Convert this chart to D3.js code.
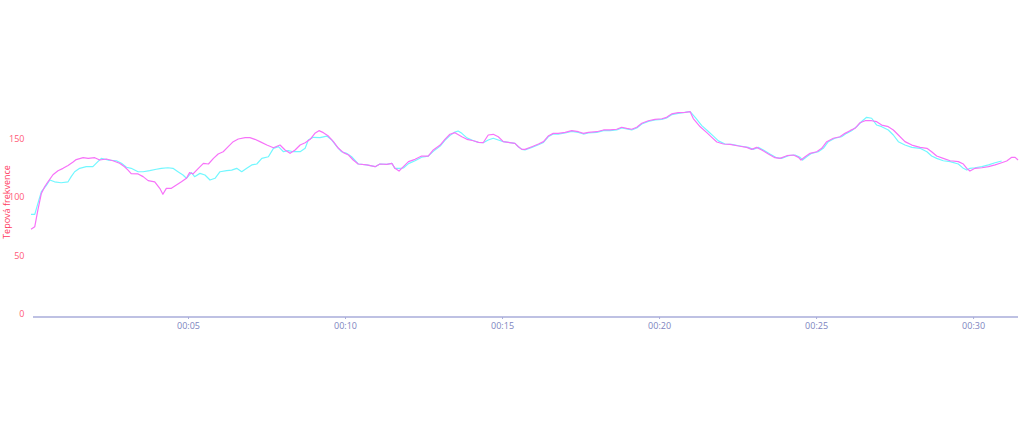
<!DOCTYPE html>
<html>
<head>
<meta charset="utf-8">
<script src="https://cdn.jsdelivr.net/npm/d3@7"></script>
<style>
  html, body { margin: 0; padding: 0; background: #fff; }
  svg { display: block; font-family: "Open Sans", "Noto Sans", sans-serif; }
</style>
</head>
<body>
<svg id="chart" width="1024" height="435"></svg>
<script>
// ---- data (time in minutes, heart rate in bpm) ----
const yTicks = [0, 50, 100, 150];
const xTicks = [5, 10, 15, 20, 25, 30];
const xTickLabels = ["00:05", "00:10", "00:15", "00:20", "00:25", "00:30"];
const yTitle = "Tepová frekvence";

const magentaTime = [0,0.12,0.22,0.33,0.44,0.54,0.70,0.86,1.02,1.18,1.34,1.44,1.66,1.82,2.03,2.19,2.40,2.61,2.82,2.98,3.09,3.19,3.41,3.57,3.73,3.94,4.10,4.20,4.31,4.47,4.63,4.79,4.95,5.05,5.16,5.33,5.49,5.65,5.81,5.96,6.12,6.28,6.44,6.60,6.82,6.97,7.13,7.29,7.51,7.72,7.93,8.09,8.25,8.41,8.57,8.73,8.89,9.04,9.17,9.31,9.47,9.63,9.79,9.95,10.11,10.26,10.42,10.69,10.96,11.11,11.33,11.49,11.59,11.72,11.86,12.02,12.23,12.44,12.65,12.81,13.03,13.18,13.34,13.50,13.72,13.88,14.09,14.25,14.40,14.56,14.72,14.88,15.04,15.25,15.41,15.52,15.63,15.73,15.95,16.16,16.32,16.47,16.63,16.79,17.01,17.22,17.43,17.59,17.75,18.02,18.23,18.44,18.65,18.81,18.97,19.13,19.29,19.45,19.66,19.87,20.09,20.24,20.40,20.61,20.83,20.99,21.09,21.31,21.52,21.68,21.84,22.05,22.26,22.53,22.79,22.95,23.11,23.27,23.48,23.69,23.85,24.07,24.28,24.44,24.52,24.65,24.81,25.02,25.18,25.34,25.55,25.76,25.92,26.08,26.24,26.40,26.56,26.77,26.93,27.09,27.30,27.46,27.62,27.83,28.05,28.31,28.53,28.68,28.84,29.05,29.27,29.53,29.69,29.80,29.90,30.06,30.28,30.49,30.70,30.91,31.07,31.23,31.34,31.43];
const magentaHR = [72.4,74.6,89,103,109,113,119,122.5,124.5,127,130,132,133.6,133,133.6,131.6,132.5,131,128.8,125.9,123,120,119.7,117.4,114,113,107.4,102.3,107.4,107.4,110.3,113,116,120.8,119.7,124.5,128.8,128.2,133,136.8,138.7,143,147.3,149.6,150.7,150.7,149.3,147.3,144.4,142.1,144.4,140.2,137.3,140.2,144.4,146.4,149.3,154.4,156.7,155,152.1,147.3,141.6,137.9,135.9,131.6,128.2,127.4,125.9,128.2,127.9,128.8,124.5,122.2,125.9,130.2,132.2,135,135,140.2,144.4,149.3,153.6,155,151.5,149.3,148.1,146.7,146.4,153,153.6,151.5,147.3,146.4,145.8,143,140.7,140.7,143,145.3,147.3,152.1,154.4,154.4,155.3,156.7,155.8,154.4,155.3,155.8,157.3,157.3,157.9,159.6,158.7,157.9,159.6,163,165.2,166.4,166.9,168.1,171,172.1,172.4,172.9,167,160,155,151,147,145.3,145,143.6,142.4,140.7,142.4,140.2,136.8,133.6,133,135.3,135.9,133.9,131.6,134.4,137.3,138.7,141.6,147.3,150.2,151.5,154.4,156.7,158.7,163.5,165.2,165.2,164.4,161.5,160.1,157.3,153,147.3,144.4,142.4,141.6,138.7,135,133,131,130.2,128.2,124.5,122.2,124.5,125,125.9,127.4,129.3,130.8,133.9,133.9,131.6];

const cyanTime = [0,0.12,0.22,0.33,0.49,0.60,0.75,0.96,1.18,1.28,1.39,1.55,1.76,1.97,2.13,2.24,2.45,2.72,2.88,3.04,3.19,3.41,3.57,3.78,3.99,4.15,4.36,4.52,4.68,4.84,4.95,5.11,5.21,5.38,5.54,5.70,5.86,6.02,6.23,6.39,6.55,6.71,6.87,7.03,7.19,7.35,7.56,7.72,7.88,8.04,8.19,8.35,8.57,8.73,8.83,8.99,9.20,9.42,9.58,9.74,9.89,10.05,10.21,10.42,10.69,10.96,11.11,11.33,11.49,11.59,11.72,11.86,12.02,12.23,12.44,12.65,12.81,13.03,13.18,13.34,13.50,13.60,13.72,13.88,14.09,14.25,14.40,14.56,14.72,14.88,15.04,15.25,15.41,15.52,15.63,15.73,15.95,16.16,16.32,16.47,16.63,16.79,17.01,17.22,17.43,17.59,17.75,18.02,18.23,18.44,18.65,18.81,18.97,19.13,19.29,19.45,19.66,19.87,20.09,20.24,20.40,20.61,20.83,20.99,21.15,21.36,21.57,21.73,21.89,22.10,22.31,22.58,22.84,23.00,23.16,23.32,23.53,23.74,23.90,24.12,24.33,24.49,24.57,24.70,24.86,25.07,25.23,25.39,25.60,25.81,25.97,26.13,26.29,26.45,26.61,26.77,26.93,27.09,27.30,27.46,27.62,27.83,28.05,28.31,28.53,28.68,28.84,29.05,29.27,29.53,29.69,29.80,29.90,30.06,30.28,30.49,30.70,30.91,31.07,31.18];
const cyanHR = [85.2,85.2,94.6,104.5,110,114.5,113,112.2,113,117.4,121.6,124.5,125.9,125.9,130.2,133,131.6,131,128.8,125.4,124.5,121.6,121.6,122.5,123.7,124.5,125,124.5,121.6,118.8,116,120.8,117.4,120.2,118.8,114.5,116,121.6,122.5,123,124.5,121.6,124.5,127.4,128.2,133,134.4,141.6,143,138.7,139.6,138.7,138.7,141.6,148.7,151,150.7,152.1,148.7,143,138.7,137.3,134.4,128.2,127.4,125.9,128.2,127.9,128.8,124.5,124.5,124.8,128.5,131,134,135,139,143.5,148.5,152.5,155.5,156.4,154.4,150.5,148.1,146.7,146.4,148.7,150.2,148.7,147.3,146.4,145.8,143,140.7,140.2,142.4,144.7,146.7,151.5,153.8,153.8,154.7,156.1,155.2,153.8,154.7,155.2,156.7,156.7,157.3,159,158.1,157.3,159,162.4,164.6,165.8,166.3,167.5,170.4,171.5,172.4,172.9,168,161,156,152,148,145.3,145,143.6,142.4,140.7,142.4,140.2,136.8,133.6,133,135.3,135.9,133.9,131.6,134.4,137.3,138.7,141.6,147.3,150.2,151.5,154.4,156.7,160,164.5,168.1,167.3,161.5,160.1,157.3,153,147.3,144.4,142.4,141.6,138.7,135,133,131,130.2,128.2,124.5,123,124.5,125,125.9,127.4,129.3,130.8];

// ---- layout ----
const svg = d3.select("#chart");
const x = d3.scaleLinear().domain([0, 31.43]).range([31, 1018]);
const y = d3.scaleLinear().domain([0, 150]).range([314, 138.5]);

// x axis line
svg.append("line")
  .attr("x1", 33).attr("x2", 1018)
  .attr("y1", 317).attr("y2", 317)
  .attr("stroke", "#a9acda").attr("stroke-width", 1.5);

const xAxis = d3.axisBottom(x).tickValues(xTicks)
  .tickFormat((d, i) => xTickLabels[i]).tickSize(2).tickPadding(4);
const gx = svg.append("g").attr("transform", "translate(0,317)").call(xAxis);
gx.select(".domain").remove();
gx.selectAll(".tick line").attr("stroke", "#a9acda");
gx.selectAll(".tick text").attr("fill", "#7d84c0").attr("font-size", "9px")
  .attr("font-family", "'Open Sans', sans-serif");

const yAxis = d3.axisLeft(y).tickValues(yTicks).tickSize(0).tickPadding(0);
const gy = svg.append("g").attr("transform", "translate(24.5,0)").call(yAxis);
gy.select(".domain").remove();
gy.selectAll(".tick text").attr("fill", "#ff5a77").attr("font-size", "9px")
  .attr("font-family", "'Open Sans', sans-serif");

svg.append("text")
  .attr("transform", "translate(10,202) rotate(-90)")
  .attr("text-anchor", "middle")
  .attr("fill", "#ff3a5e")
  .attr("font-size", "9px")
  .attr("font-family", "'Open Sans', sans-serif")
  .text(yTitle);

const line = d3.line().x(d => x(d[0])).y(d => y(d[1]));
const cyan = cyanTime.map((t, i) => [t, cyanHR[i]]);
const magenta = magentaTime.map((t, i) => [t, magentaHR[i]]);

svg.append("path").datum(cyan).attr("d", line)
  .attr("fill", "none").attr("stroke", "#72f7ff").attr("stroke-width", 1.2)
  .attr("stroke-linejoin", "round");
svg.append("path").datum(magenta).attr("d", line)
  .attr("fill", "none").attr("stroke", "#f772f9").attr("stroke-width", 1.2)
  .attr("stroke-linejoin", "round");
</script>
</body>
</html>
